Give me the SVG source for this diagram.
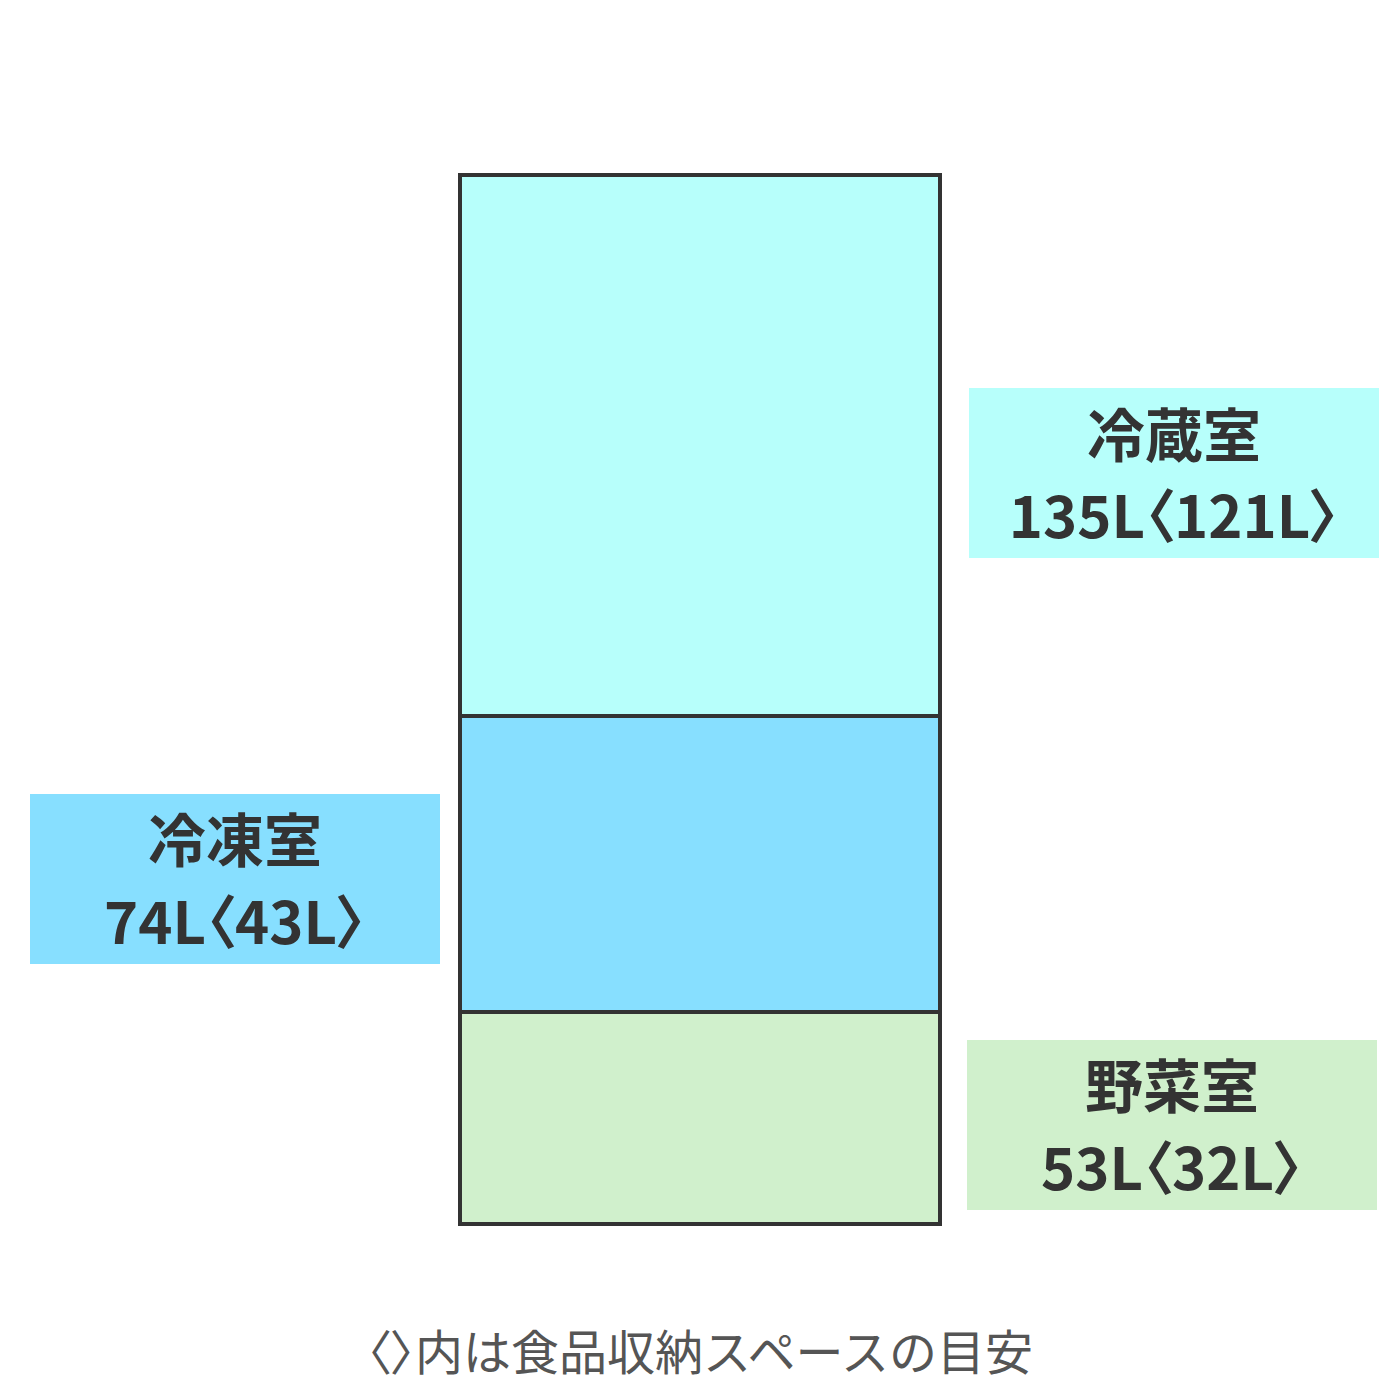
<svg xmlns="http://www.w3.org/2000/svg" width="1400" height="1400" viewBox="0 0 1400 1400">
<style>
.sec{stroke:#333;stroke-width:4}
.lbl{font-family:"Noto Sans CJK JP","Noto Sans",sans-serif;font-weight:700;font-size:58px;fill:#333;text-anchor:middle;font-feature-settings:"palt"}
.note{font-family:"Noto Sans CJK JP","Noto Sans",sans-serif;font-size:48px;fill:#555;text-anchor:middle}
.br{font-feature-settings:"palt"}
</style>
<rect width="1400" height="1400" fill="#fff"/>
<g id="fridge">
<rect id="reizo" class="sec" x="460" y="175" width="480" height="541" fill="#b7fffb"/>
<rect id="reito" class="sec" x="460" y="716" width="480" height="296" fill="#87dfff"/>
<rect id="yasai" class="sec" x="460" y="1012" width="480" height="212" fill="#d0f0cc"/>
</g>
<g id="label-reizo">
<rect x="969" y="388" width="410" height="170" fill="#b7fffb"/>
<text class="lbl" x="1174" y="457">冷蔵室</text>
<text class="lbl" x="1174" y="538">135L〈121L〉</text>
</g>
<g id="label-reito">
<rect x="30" y="794" width="410" height="170" fill="#87dfff"/>
<text class="lbl" x="235" y="862">冷凍室</text>
<text class="lbl" x="235" y="944">74L〈43L〉</text>
</g>
<g id="label-yasai">
<rect x="967" y="1040" width="410" height="170" fill="#d0f0cc"/>
<text class="lbl" x="1172" y="1108">野菜室</text>
<text class="lbl" x="1172" y="1190">53L〈32L〉</text>
</g>
<g id="connectors"></g>
<text class="note" x="700" y="1370"><tspan class="br">〈〉</tspan>内は食品収納スペースの目安</text>
</svg>
